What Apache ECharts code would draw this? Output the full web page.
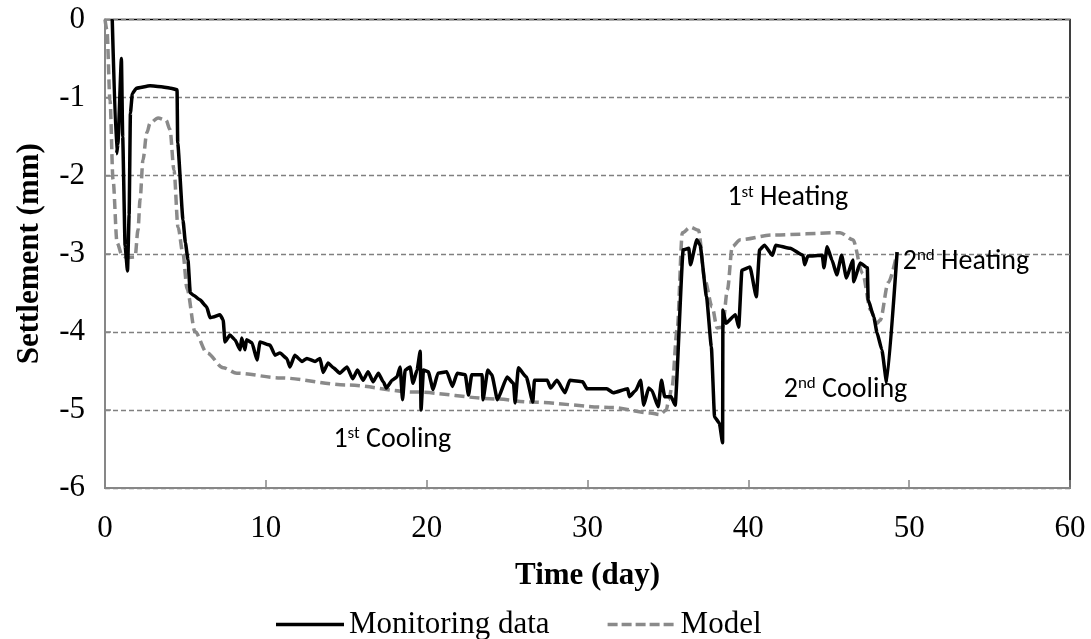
<!DOCTYPE html>
<html>
<head>
<meta charset="utf-8">
<title>Settlement vs time</title>
<script src="https://cdn.jsdelivr.net/npm/echarts@6/dist/echarts.min.js"></script>
<style>
  html, body { margin: 0; padding: 0; background: #fff; }
  #chart { width: 1091px; height: 639px; }
</style>
</head>
<body>
<div id="chart"></div>
<script>
// Monitoring data: time (day) and settlement (mm)
const monitoringTime = [
  0.45, 0.72, 0.8, 1.02, 1.1, 1.25, 1.4, 1.5, 1.58, 1.7, 1.95, 2.8, 3.5, 4.1, 4.48, 4.52, 4.85, 5.0, 5.16, 5.3,
  5.5, 5.9, 6.32, 6.53, 6.72, 7.15, 7.35, 7.46, 7.77, 8.08, 8.4, 8.5, 8.7, 8.8, 9.14, 9.45, 9.64, 10.26, 10.57, 10.88,
  11.3, 11.5, 11.8, 12.25, 12.55, 13.06, 13.37, 13.56, 13.87, 14.2, 14.6, 15.05, 15.4, 15.7, 16.05, 16.36, 16.67, 17.0, 17.3, 17.5,
  17.85, 18.15, 18.35, 18.5, 18.66, 18.97, 19.15, 19.4, 19.6, 19.65, 19.8, 20.1, 20.4, 20.7, 21.25, 21.6, 21.9, 22.4, 22.6, 22.8,
  23.45, 23.5, 23.8, 24.05, 24.4, 25.0, 25.4, 25.5, 25.7, 26.2, 26.6, 26.7, 27.5, 27.7, 28.1, 28.6, 28.9, 29.7, 29.97, 31.2,
  31.6, 32.5, 32.6, 33.0, 33.3, 33.5, 33.8, 34.0, 34.4, 34.6, 34.8, 35.2, 35.45, 35.95, 36.3, 36.4, 36.8, 37.0, 37.4, 37.7,
  37.9, 38.2, 38.4, 38.42, 38.6, 39.2, 39.4, 39.6, 40.1, 40.5, 40.7, 41.0, 41.5, 41.7, 42.6, 43.4, 43.5, 43.7, 44.6, 44.7,
  44.9, 45.2, 45.5, 45.8, 46.1, 46.5, 46.55, 46.95, 47.4, 47.45, 47.8, 48.0, 48.3, 48.6, 49.25
];
const monitoringSettlement = [
  0, -1.72, -1.6, -0.5, -1.5, -2.9, -3.22, -2.5, -1.2, -0.95, -0.88, -0.85, -0.86, -0.88, -0.9, -1.58, -2.57, -2.86, -3.08, -3.5,
  -3.53, -3.59, -3.68, -3.82, -3.81, -3.78, -3.85, -4.13, -4.04, -4.1, -4.23, -4.08, -4.23, -4.1, -4.14, -4.36, -4.13, -4.17, -4.3, -4.27,
  -4.34, -4.45, -4.3, -4.38, -4.34, -4.38, -4.34, -4.52, -4.4, -4.46, -4.53, -4.45, -4.6, -4.49, -4.62, -4.51, -4.64, -4.53, -4.64, -4.72,
  -4.62, -4.58, -4.45, -4.87, -4.49, -4.45, -4.66, -4.49, -4.25, -5.0, -4.49, -4.51, -4.74, -4.53, -4.51, -4.7, -4.53, -4.55, -4.81, -4.55,
  -4.55, -4.87, -4.49, -4.55, -4.87, -4.58, -4.66, -4.91, -4.46, -4.58, -4.9, -4.62, -4.62, -4.72, -4.62, -4.78, -4.62, -4.64, -4.73, -4.73,
  -4.78, -4.73, -4.83, -4.75, -4.62, -4.94, -4.72, -4.75, -4.96, -4.62, -4.83, -4.83, -4.94, -2.95, -2.93, -3.14, -2.82, -2.89, -3.55, -4.19,
  -5.09, -5.17, -5.42, -3.72, -3.89, -3.78, -3.94, -3.21, -3.17, -3.55, -2.95, -2.89, -3.02, -2.89, -2.93, -3.02, -3.14, -3.03, -3.02, -3.18,
  -2.91, -3.08, -3.27, -3.02, -3.31, -3.08, -3.36, -3.12, -3.18, -3.59, -3.81, -4.01, -4.23, -4.65, -2.98
];

// Model prediction: time (day) and settlement (mm)
const modelTime = [
  0, 0.12, 0.31, 0.5, 0.75, 1.06, 1.37, 1.87, 2.05, 2.18, 2.36, 2.6, 2.8, 3.3, 3.8, 4.04, 4.29, 4.54, 4.85, 5.1,
  5.6, 6.34, 7.35, 8.2, 10.9, 15.05, 19.15, 24.4, 26.4, 31.6, 33.9, 34.5, 34.9, 35.05, 35.26, 35.57, 35.9, 36.4, 36.9, 37.3,
  37.75, 38.06, 38.4, 38.7, 39.0, 39.5, 41.5, 45.7, 46.5, 47.1, 47.6, 48.0, 48.2, 48.7, 49.25
];
const modelSettlement = [
  0, -0.13, -1.03, -2.05, -2.86, -3.02, -3.05, -3.04, -2.7, -2.31, -1.8, -1.45, -1.33, -1.26, -1.29, -1.41, -1.93, -2.66, -3.0, -3.45,
  -4.0, -4.27, -4.46, -4.53, -4.59, -4.68, -4.77, -4.86, -4.9, -4.97, -5.04, -5.06, -5.0, -4.87, -4.7, -3.98, -2.73, -2.66, -2.7, -3.34,
  -3.68, -3.95, -3.94, -3.46, -2.91, -2.82, -2.76, -2.73, -2.82, -3.25, -3.72, -3.89, -3.85, -3.37, -2.98
];

// Axis ranges and ticks
const xMin = 0, xMax = 60, xStep = 10;
const yMin = -6, yMax = 0, yStep = 1;

// Phase annotations: [ordinal, suffix, phase, time, settlement]
const phaseLabels = [
  ['1', 'st', 'Cooling', 14.2, -5.38],
  ['1', 'st', 'Heating', 38.7, -2.29],
  ['2', 'nd', 'Heating', 49.6, -3.1],
  ['2', 'nd', 'Cooling', 42.2, -4.74]
];

const serif = "'Times New Roman', 'Liberation Serif', 'DejaVu Serif', serif";
const sans = "Carlito, Calibri, Lato, 'Open Sans', sans-serif";

// Legend swatches: a solid stroke and a dashed stroke, drawn as filled paths
const solidIcon = 'path://M0,0H68V3.5H0Z';
const dashedIcon = 'path://M0,0H10V3.5H0Z M14,0H24V3.5H14Z M28,0H38V3.5H28Z M42,0H52V3.5H42Z M56,0H66V3.5H56Z M68,0H68.01V3.5H68Z';

const zip = (xs, ys) => xs.map((x, i) => [x, ys[i]]);

const chart = echarts.init(document.getElementById('chart'), null, { renderer: 'canvas' });

chart.setOption({
  animation: false,
  backgroundColor: '#ffffff',
  grid: {
    left: 105, right: 21, top: 19.5, bottom: 151,
    show: true, borderColor: '#000000', borderWidth: 1.5, backgroundColor: 'transparent'
  },
  legend: {
    left: 271, top: 604,
    itemWidth: 68, itemHeight: 3.5, itemGap: 58,
    textStyle: { fontFamily: serif, fontSize: 31, color: '#000' },
    data: [
      { name: 'Monitoring data', icon: solidIcon },
      { name: 'Model', icon: dashedIcon }
    ]
  },
  xAxis: {
    type: 'value', min: xMin, max: xMax, interval: xStep,
    name: 'Time (day)', nameLocation: 'middle', nameGap: 72,
    nameTextStyle: { fontFamily: serif, fontSize: 31, fontWeight: 'bold', color: '#000' },
    axisLine: { show: true, onZero: false, lineStyle: { color: '#878787', width: 2 } },
    axisTick: { show: true, inside: true, length: 8, lineStyle: { color: '#878787', width: 1.5 } },
    axisLabel: { fontFamily: serif, fontSize: 31, color: '#000', margin: 25 },
    splitLine: { show: false }
  },
  yAxis: {
    type: 'value', min: yMin, max: yMax, interval: yStep,
    name: 'Settlement (mm)', nameLocation: 'middle', nameGap: 60, nameRotate: 90,
    nameTextStyle: { fontFamily: serif, fontSize: 31, fontWeight: 'bold', color: '#000' },
    axisLine: { show: true, onZero: false, lineStyle: { color: '#878787', width: 2 } },
    axisTick: { show: true, inside: true, length: 6, lineStyle: { color: '#878787', width: 1.5 } },
    axisLabel: { fontFamily: serif, fontSize: 31, color: '#000', margin: 20 },
    splitLine: { show: true, lineStyle: { color: '#808080', width: 1.3, type: [5, 3] } }
  },
  series: [
    {
      name: 'Model',
      type: 'line',
      data: zip(modelTime, modelSettlement),
      showSymbol: false, symbol: 'none',
      smooth: 0.3, smoothMonotone: 'x',
      lineStyle: { color: '#8a8a8a', width: 3.5, type: [10, 5] },
      itemStyle: { color: '#8a8a8a' },
      z: 2,
      markPoint: {
        symbol: 'circle', symbolSize: 0,
        silent: true,
        label: {
          show: true, position: 'right', distance: 0,
          fontFamily: sans, fontSize: 28, color: '#000',
          rich: {
            sup: { fontFamily: sans, fontSize: 17, verticalAlign: 'top', color: '#000', padding: [0, 0, 12, 0] },
            base: { fontFamily: sans, fontSize: 28, color: '#000' }
          }
        },
        data: phaseLabels.map(p => ({
          coord: [p[3], p[4]],
          label: { formatter: '{base|' + p[0] + '}{sup|' + p[1] + '}{base| ' + p[2] + '}' }
        }))
      }
    },
    {
      name: 'Monitoring data',
      type: 'line',
      data: zip(monitoringTime, monitoringSettlement),
      showSymbol: false, symbol: 'none',
      smooth: 0.15, smoothMonotone: 'x',
      lineStyle: { color: '#000000', width: 3.5, join: 'round' },
      itemStyle: { color: '#000000' },
      z: 3
    }
  ]
});
</script>
</body>
</html>
